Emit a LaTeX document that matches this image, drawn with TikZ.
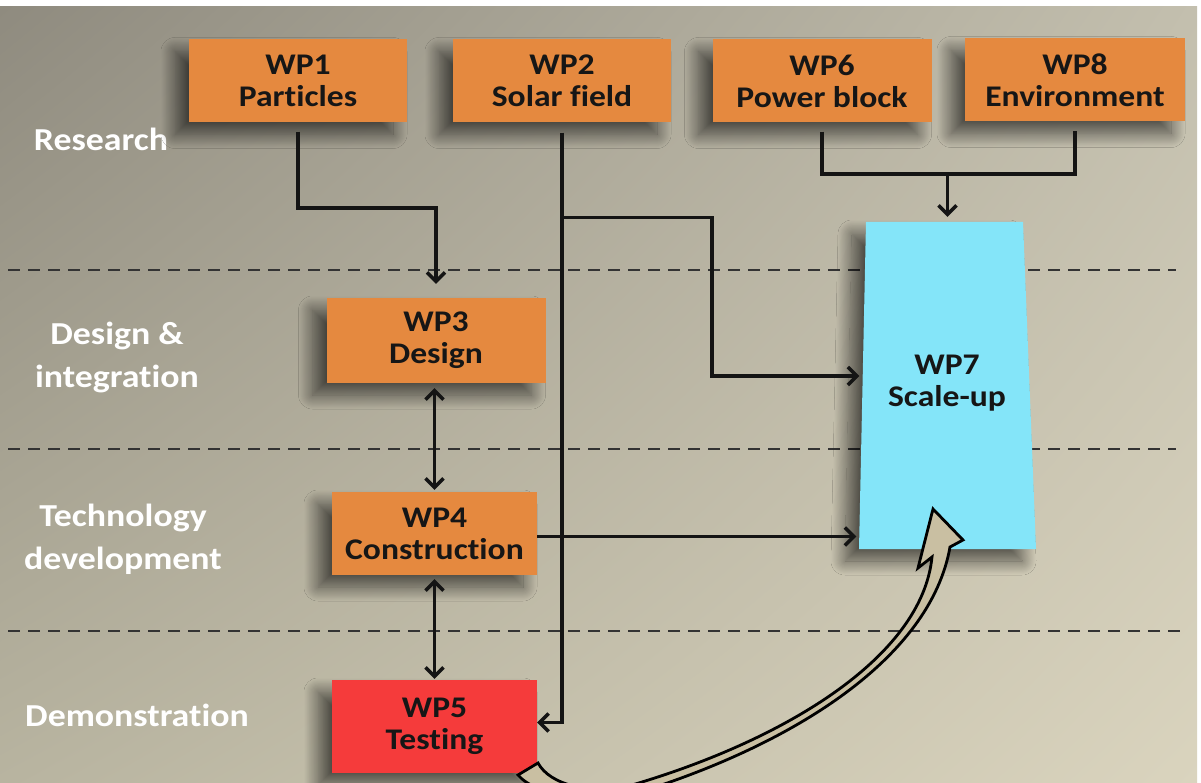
\documentclass[tikz,border=0pt]{standalone}
\usepackage{fontspec}
\setmainfont{Carlito}[FakeStretch=1.12,Ligatures=NoCommon]
\usetikzlibrary{arrows.meta,calc,shadows.blur,shadings}
\definecolor{bgUL}{HTML}{8F8B7F}
\definecolor{bgUR}{HTML}{C3BFAE}
\definecolor{bgLL}{HTML}{B8B4A0}
\definecolor{bgLR}{HTML}{DAD4BE}
\definecolor{orangeWP}{HTML}{E5893F}
\definecolor{redWP}{HTML}{F53B3B}
\definecolor{cyanWP}{HTML}{84E5F9}
\definecolor{textdark}{HTML}{161616}
\definecolor{arrowfill}{HTML}{C9BFA2}
\begin{document}
\begin{tikzpicture}[x=1pt,y=-1pt,
  shad/.style={blur shadow={shadow xshift=-14pt,shadow yshift=-12pt,shadow blur radius=14pt,shadow blur steps=30,shadow opacity=60}},
  boxtext/.style={align=center,text=textdark,font=\fontsize{30}{32}\selectfont\bfseries},
  wp/.style={boxtext,shad,fill=orangeWP,minimum width=218pt,minimum height=83pt,inner sep=0pt},
  lab/.style={text=white,align=center,font=\fontsize{32}{43}\selectfont\bfseries},
  ln/.style={line width=3.5pt,draw=black!92},
  arr/.style={ln,-{Straight Barb[length=9pt,width=18pt]}},
  arrs/.style={ln,{Straight Barb[length=9pt,width=18pt]}-{Straight Barb[length=9pt,width=18pt]}},
  sep/.style={dash pattern=on 12pt off 8pt,line width=2pt,draw=black!80},
]
\useasboundingbox (0,0) rectangle (1201,783);
\fill[white] (0,0) rectangle (1201,783);
\shade[upper left=bgUL,upper right=bgUR,lower left=bgLL,lower right=bgLR] (0,7) rectangle (1197,783);

% phase separators
\draw[sep] (8,270) -- (1176,270);
\draw[sep] (8,449) -- (1176,449);
\draw[sep] (8,631) -- (1180,631);

% phase labels
\node[lab,anchor=base] (lres) at (101,151) {Research};
\node[lab] (ldes) at (117,357) {Design \&\\integration};
\node[lab] (ltech) at (123,539) {Technology\\development};
\node[lab,anchor=base] (ldemo) at (137,726) {Demonstration};

% WP7
\fill[cyanWP,shad] (866,222) -- (1023,222) -- (1036,549) -- (859,549) -- cycle;
\node[minimum width=170pt,minimum height=327pt,inner sep=0pt] (wp7) at (947.5,385.5) {};
\node[boxtext] (wp7t) at (947,383) {WP7\\Scale-up};

% work packages
\node[wp] (wp1) at (298,81) {WP1\\Particles};
\node[wp] (wp2) at (562,81) {WP2\\Solar field};
\node[wp,minimum width=219pt] (wp6) at (822,81) {WP6\\Power block};
\node[wp,minimum width=220pt] (wp8) at (1075,80) {WP8\\Environment};
\node[wp,minimum width=219pt,minimum height=85pt] (wp3) at (436,340.5) {WP3\\Design};
\node[wp,minimum width=205pt] (wp4) at (434.5,533.5) {WP4\\Construction};
\node[wp,fill=redWP,minimum width=205pt,minimum height=93pt] (wp5) at (434.5,726.5) {WP5\\Testing};

% connectors
\coordinate (j1) at ($(wp2.south)+(0,95)$);
\coordinate (bend) at (712,376);
\coordinate (m) at ($(wp7.north)+(0,-48)$);

\draw[arr,shorten <=9pt,shorten >=14pt] (wp1.south) |- ($(wp3.north)+(0,-90)$) -- (wp3.north);
\draw[arr,shorten <=10pt] (wp2.south) |- ([yshift=4pt]wp5.east);
\draw[arr,shorten >=3pt] (j1) -| (bend) -- (bend -| wp7.west);
\draw[ln,shorten <=9pt,shorten >=9pt] (wp6.south) |- (m) -| (wp8.south);
\draw[arr,shorten >=5pt] (m) -- (wp7.north);
\draw[arrs,shorten <=5pt,shorten >=2pt] (wp4.north |- wp3.south) -- (wp4.north);
\draw[arrs,shorten <=4pt,shorten >=1pt] (wp4.south) -- (wp5.north);
\draw[arr,shorten >=6pt] ([yshift=-3pt]wp4.east) -- ([yshift=-3pt]wp4.east -| wp7.west);

% curved block arrow WP5 -> WP7
\begin{scope}
\clip (0,7) rectangle (1197,783);
\draw[fill=arrowfill,line width=2.8pt,line join=miter]
  (518,775) .. controls (535,795) and (590,805) .. (640,792)
  .. controls (790,745) and (930,660) .. (950,547)
  -- (963,540) -- (933,509) -- (918,568) -- (932,557)
  .. controls (922,657) and (785,740) .. (632,785)
  .. controls (590,795) and (550,785) .. (538,763) -- cycle;
\end{scope}
\end{tikzpicture}
\end{document}
